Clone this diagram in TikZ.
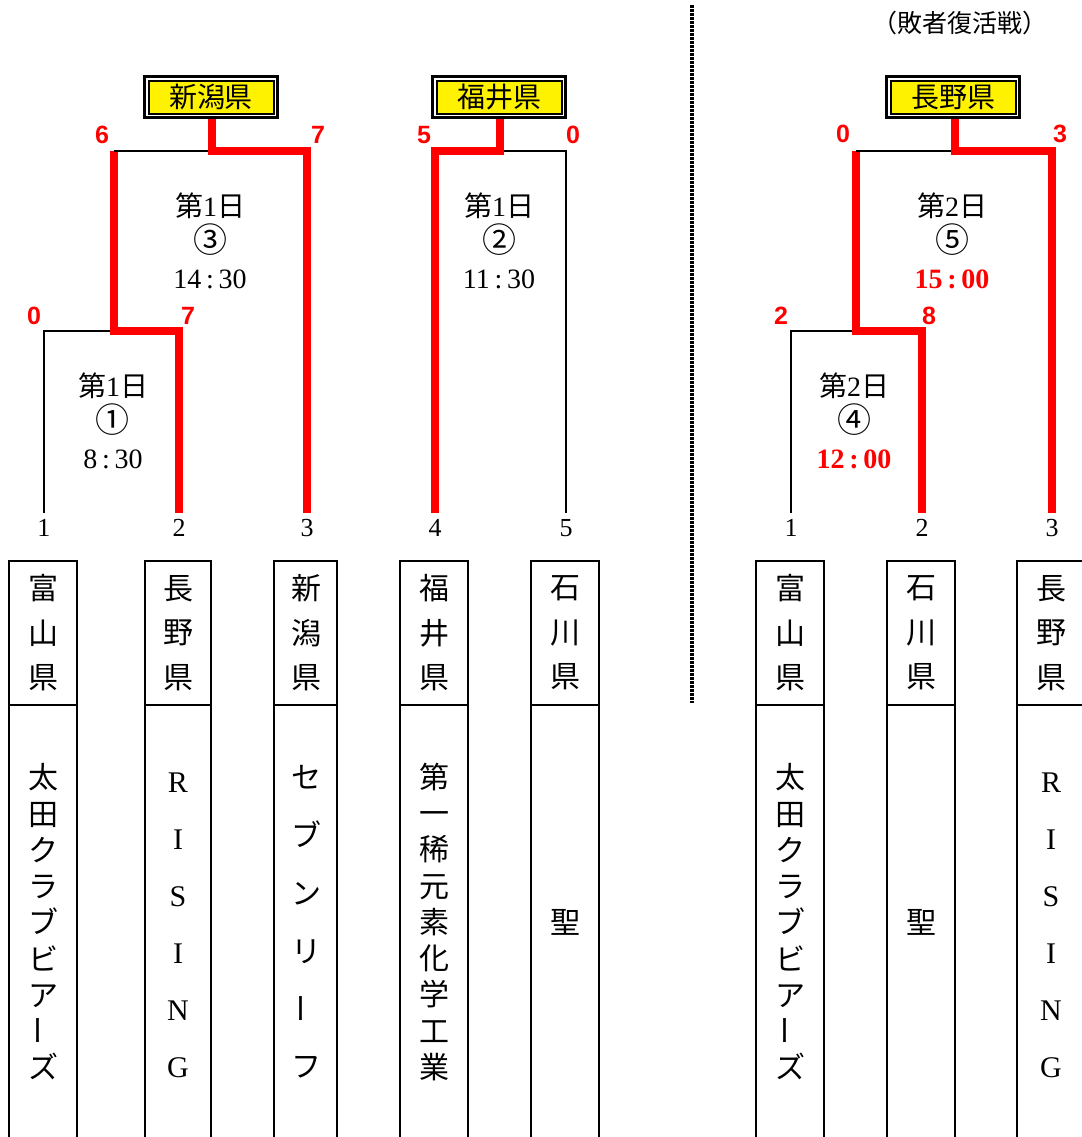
\documentclass[tikz,border=0pt]{standalone}
\usepackage{fontspec}
\usepackage{graphicx}
\setmainfont{Liberation Serif}
\newfontfamily\jp{Noto Sans CJK JP}
\newfontfamily\gothic{Liberation Sans}
\newcommand{\chouon}{\raisebox{0.18em}{\rotatebox[origin=c]{90}{ー}}}
\newcommand{\maru}[1]{{\jp\fontsize{17}{17}\selectfont #1}}

\begin{document}
\begin{tikzpicture}[x=0.5pt, y=-0.5pt,
  win/.style={red, line width=4pt},
  lose/.style={black, line width=1.4pt},
  winbox/.style={fill=yellow, draw=black, line width=1pt, minimum width=62.5pt, minimum height=16.5pt,
    inner sep=0pt, outer sep=2.75pt, font=\jp\fontsize{14}{14}\selectfont,
    preaction={draw=black, line width=5.5pt}, preaction={draw=white, line width=2.3pt}},
  score/.style={text=red, font=\gothic\bfseries\fontsize{12.5}{12.5}\selectfont},
  seed/.style={font=\fontsize{13}{13}\selectfont, inner sep=3.1pt},
  info/.style={align=center, font=\fontsize{14}{18}\selectfont},
  pref/.style={align=center, font=\jp\fontsize{15}{22.25}\selectfont},
  team/.style={align=center, font=\jp\fontsize{15}{#1}\selectfont},
  teamlatin/.style={align=center, font=\fontsize{15}{28.5}\selectfont}]
\useasboundingbox (0,0) rectangle (1082,1137);

% team boxes
\foreach \l/\r in {9/77, 145/211, 274/337, 400/468, 531/599, 756/824, 887/955, 1017/1085} {
  \draw[line width=0.7pt] (\l,1137) -- (\l,561) -- (\r,561) -- (\r,1137);
  \draw[line width=0.7pt] (\l,705) -- (\r,705);
}
\node[pref] (p1) at (43,633) {富\\山\\県};
\node[pref] (p2) at (178,633) {長\\野\\県};
\node[pref] (p3) at (306,633) {新\\潟\\県};
\node[pref] (p4) at (434,633) {福\\井\\県};
\node[pref] (p5) at (565,633) {石\\川\\県};
\node[pref] (q1) at (790,633) {富\\山\\県};
\node[pref] (q2) at (921,633) {石\\川\\県};
\node[pref] (q3) at (1051,633) {長\\野\\県};

\node[team=18.125] (t1) at (43,922) {太\\田\\ク\\ラ\\ブ\\ビ\\ア\\\chouon\\ズ};
\node[teamlatin] (t2) at (178,925) {R\\I\\S\\I\\N\\G};
\node[team=28.9] (t3) at (306,922) {セ\\ブ\\ン\\リ\\\chouon\\フ};
\node[team=18.125] (t4) at (434,922) {第\\一\\稀\\元\\素\\化\\学\\工\\業};
\node[team=15] (t5) at (565,922) {聖};
\node[team=18.125] (u1) at (790,922) {太\\田\\ク\\ラ\\ブ\\ビ\\ア\\\chouon\\ズ};
\node[team=15] (u2) at (921,922) {聖};
\node[teamlatin] (u3) at (1051,925) {R\\I\\S\\I\\N\\G};

% seeds
\node[seed] (s1) at (44,528) {1};
\node[seed] (s2) at (179,528) {2};
\node[seed] (s3) at (307,528) {3};
\node[seed] (s4) at (435,528) {4};
\node[seed] (s5) at (566,528) {5};
\node[seed] (r1) at (791,528) {1};
\node[seed] (r2) at (922,528) {2};
\node[seed] (r3) at (1052,528) {3};

% winners
\node[winbox] (nii) at (211,97) {新潟県};
\node[winbox] (fuk) at (499,97) {福井県};
\node[winbox] (nag) at (953,97) {長野県};

\coordinate (j1) at (114,331);
\coordinate (c1) at (114,151);
\coordinate (j3) at (212,151);
\coordinate (j2) at (500,151);
\coordinate (j4) at (856,331);
\coordinate (c4) at (856,151);
\coordinate (j5) at (955,151);

\draw[lose] (s1.north) |- (j1);
\draw[win] (s2.north) |- (j1) -- (c1);
\draw[lose] (c1) -- (j3);
\draw[win] (s3.north) |- (j3) -- (j3 |- nii.south);

\draw[lose] (s5.north) |- (j2);
\draw[win] (s4.north) |- (j2) -- (j2 |- fuk.south);

\draw[lose] (r1.north) |- (j4);
\draw[win] (r2.north) |- (j4) -- (c4);
\draw[lose] (c4) -- (j5);
\draw[win] (r3.north) |- (j5) -- (j5 |- nag.south);

% scores
\node[score] (a1) at (102,135) {6};
\node[score] (a2) at (318,135) {7};
\node[score] (a3) at (34,316) {0};
\node[score] (a4) at (188,316) {7};
\node[score] (a5) at (424,135) {5};
\node[score] (a6) at (573,135) {0};
\node[score] (b1) at (843,134) {0};
\node[score] (b2) at (1060,134) {3};
\node[score] (b3) at (781,316) {2};
\node[score] (b4) at (929,316) {8};

% games
\node[info] (g1) at (113,421) {{\jp 第}1{\jp 日}\\\maru{①}\\8\,:\,30};
\node[info] (g2) at (499,241) {{\jp 第}1{\jp 日}\\\maru{②}\\11\,:\,30};
\node[info] (g3) at (210,241) {{\jp 第}1{\jp 日}\\\maru{③}\\14\,:\,30};
\node[info] (g4) at (854,421) {{\jp 第}2{\jp 日}\\\maru{④}\\\textcolor{red}{\bfseries 12\,:\,00}};
\node[info] (g5) at (952,241) {{\jp 第}2{\jp 日}\\\maru{⑤}\\\textcolor{red}{\bfseries 15\,:\,00}};

\draw[line width=1.6pt, dash pattern=on 1.5pt off 0.5pt] (692,5) -- (692,703);
\node[font=\jp\fontsize{12.5}{12.5}\selectfont] (title) at (960,23) {（敗者復活戦）};
\end{tikzpicture}
\end{document}
